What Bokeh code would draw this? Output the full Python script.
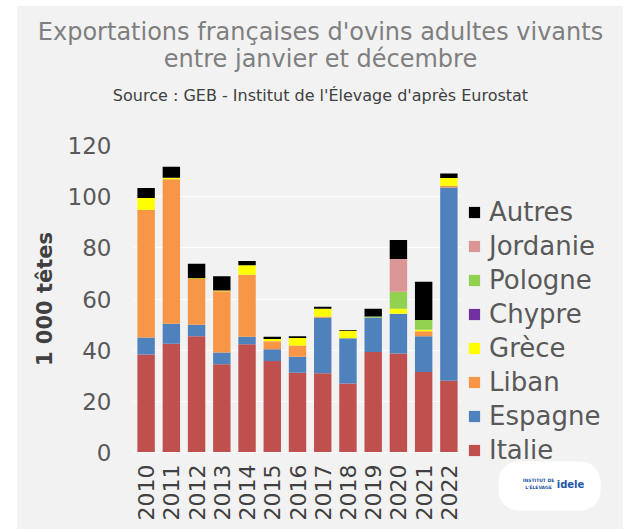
from bokeh.plotting import figure
from bokeh.models import Label, Legend, LegendItem, FactorRange, BoxAnnotation
from bokeh.layouts import column, row
from bokeh.embed import file_html
from bokeh.resources import INLINE
import math

years = ["2010", "2011", "2012", "2013", "2014", "2015", "2016",
         "2017", "2018", "2019", "2020", "2021", "2022"]
italie   = [38.3, 42.5, 45.4, 34.5, 42.3, 35.8, 31.2, 31.0, 27.0, 39.3, 38.7, 31.5, 28.0]
espagne  = [6.7, 7.8, 4.5, 4.6, 2.9, 4.6, 6.2, 21.7, 17.7, 13.4, 15.5, 13.9, 75.6]
liban    = [49.8, 56.5, 17.9, 23.9, 24.3, 3.1, 4.4, 0.5, 0.0, 0.0, 0.0, 2.0, 0.7]
grece    = [4.7, 0.6, 0.3, 0.3, 3.7, 0.9, 3.0, 3.0, 2.8, 0.0, 2.0, 0.6, 3.0]
chypre   = [0.0, 0.0, 0.0, 0.0, 0.0, 0.0, 0.0, 0.0, 0.0, 0.0, 0.0, 0.0, 0.0]
pologne  = [0.0, 0.0, 0.0, 0.0, 0.0, 0.0, 0.0, 0.0, 0.0, 0.5, 6.6, 3.8, 0.0]
jordanie = [0.0, 0.0, 0.0, 0.0, 0.0, 0.0, 0.0, 0.0, 0.0, 0.0, 12.8, 0.0, 0.0]
autres   = [3.9, 4.3, 5.7, 5.6, 1.7, 0.8, 0.6, 0.8, 0.3, 3.0, 7.5, 14.9, 1.8]

series = ["Italie", "Espagne", "Liban", "Grèce", "Chypre", "Pologne", "Jordanie", "Autres"]
colors = ["#c0504d", "#4f81bd", "#f79646", "#ffff00", "#7030a0", "#92d050", "#d99694", "#000000"]
y_ticks = [0, 20, 40, 60, 80, 100, 120]

title1 = "Exportations françaises d'ovins adultes vivants"
title2 = "entre janvier et décembre"
source = "Source : GEB - Institut de l'Élevage d'après Eurostat"
y_label = "1 000 têtes"

BG = "#f2f2f2"
FONT = "DejaVu Sans"
HW, HH = 606, 124     # header (titles)
CW, CH = 444, 399     # chart
LW, LH = 162, 399     # legend panel


def bare(w, h):
    f = figure(width=w, height=h, x_range=(0, w), y_range=(0, h), output_backend="svg",
               toolbar_location=None, x_axis_location=None, y_axis_location=None,
               min_border=0, frame_align=False)
    f.background_fill_color = BG
    f.border_fill_color = BG
    f.outline_line_color = None
    f.grid.visible = False
    return f


# ---- header with titles ----
header = bare(HW, HH)
for txt, cy, size, col in [(title1, 25, "24px", "#7f7f7f"),
                           (title2, 52, "24px", "#7f7f7f"),
                           (source, 89, "16px", "#404040")]:
    header.add_layout(Label(x=303, y=HH - cy, text=txt, text_font=FONT, text_font_size=size,
                            text_color=col, text_align="center", text_baseline="middle"))

# ---- chart ----
data = dict(years=years, Italie=italie, Espagne=espagne, Liban=liban, Grèce=grece,
            Chypre=chypre, Pologne=pologne, Jordanie=jordanie, Autres=autres)

p = figure(x_range=FactorRange(*years, range_padding=0), y_range=(0, 120),
           width=CW, height=CH, output_backend="svg", toolbar_location=None,
           min_border_left=116, min_border_right=0, min_border_top=15, min_border_bottom=77,
           frame_align=False)
p.background_fill_color = BG
p.border_fill_color = BG
p.outline_line_color = None

p.vbar_stack(series, x="years", width=0.69, color=colors, source=data, line_color=None)

p.yaxis.ticker = y_ticks
p.yaxis.axis_line_color = None
p.yaxis.major_tick_line_color = None
p.yaxis.major_tick_out = 0
p.yaxis.minor_tick_line_color = None
p.yaxis.major_label_text_font = FONT
p.yaxis.major_label_text_font_size = "23px"
p.yaxis.major_label_text_color = "#595959"
p.yaxis.major_label_standoff = 22
p.yaxis.axis_label = y_label
p.yaxis.axis_label_text_font = FONT
p.yaxis.axis_label_text_font_size = "21px"
p.yaxis.axis_label_text_font_style = "bold"
p.yaxis.axis_label_text_color = "#404040"
p.yaxis.axis_label_standoff = 8

p.xaxis.axis_line_color = "#fbfbfb"
p.xaxis.major_tick_line_color = None
p.xaxis.major_label_orientation = math.pi / 2
p.xaxis.major_label_text_font = FONT
p.xaxis.major_label_text_font_size = "22px"
p.xaxis.major_label_text_color = "#404040"
p.xaxis.major_label_standoff = 6

p.xgrid.grid_line_color = None
p.ygrid.grid_line_color = "#ffffff"
p.ygrid.grid_line_alpha = 0.8

# ---- legend panel ----
lg = bare(LW, LH)
# zero-height proxies, only used for the legend swatches
swatches = [lg.vbar(x=[0], top=[0], width=1, color=c, line_color=None) for c in colors]
items = [LegendItem(label=s, renderers=[r]) for s, r in zip(series, swatches)][::-1]

# logo (white rounded tile with text)
lg.add_layout(BoxAnnotation(left=37, right=139, bottom=19, top=68, fill_color="white",
                            fill_alpha=1, line_color=None, border_radius=20))
lg.add_layout(Label(x=109, y=45, text="idele", text_font=FONT, text_font_size="10px",
                    text_font_style="bold", text_color="#2356a8",
                    text_align="center", text_baseline="middle"))
lg.add_layout(Label(x=77, y=49, text="INSTITUT DE", text_font=FONT, text_font_size="4.5px",
                    text_font_style="bold", text_color="#2356a8",
                    text_align="center", text_baseline="middle"))
lg.add_layout(Label(x=77, y=42, text="L'ÉLEVAGE", text_font=FONT, text_font_size="4.5px",
                    text_font_style="bold", text_color="#2356a8",
                    text_align="center", text_baseline="middle"))

legend = Legend(items=items, location=(6, 62), padding=0, margin=0,
                background_fill_alpha=0, border_line_color=None,
                glyph_width=14, glyph_height=14, label_standoff=8,
                label_height=34, spacing=0,
                label_text_font=FONT, label_text_font_size="26px",
                label_text_color="#595959")
lg.add_layout(legend, "center")

layout = column(header, row(p, lg, spacing=0, styles={"background-color": BG}),
                spacing=0, margin=(6, 0, 0, 17), styles={"background-color": BG})
open("out.html", "w").write(file_html(layout, INLINE))
